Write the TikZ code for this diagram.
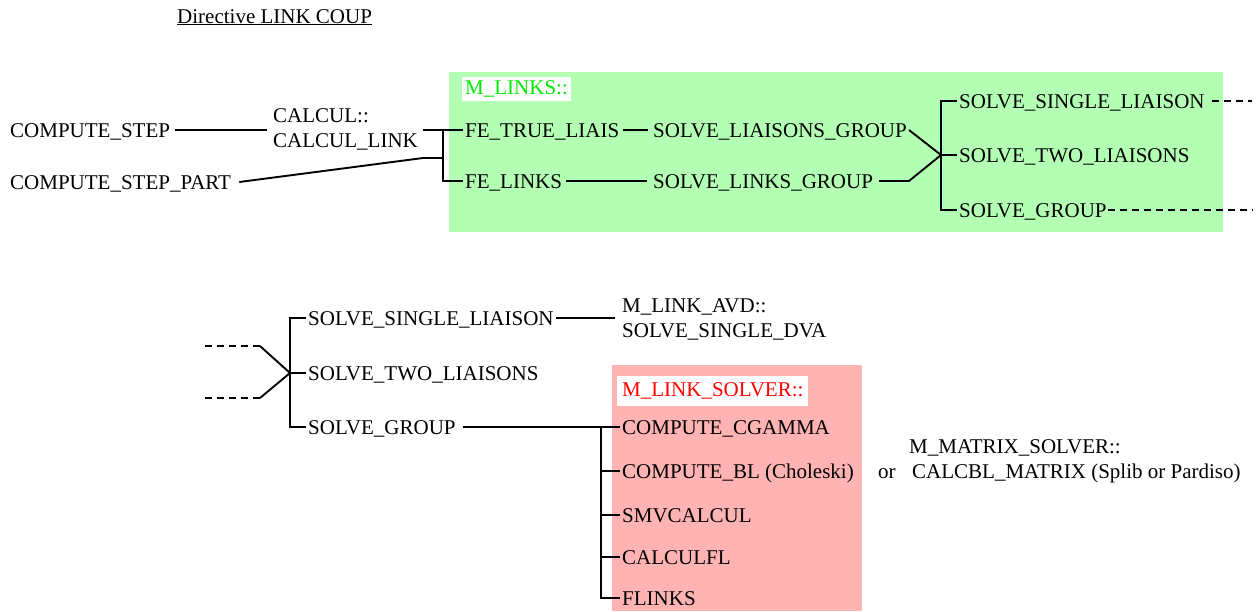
\documentclass[tikz,border=0pt]{standalone}
\usepackage{fontspec}
\setmainfont{Liberation Serif}
\definecolor{boxgreen}{RGB}{179,255,179}
\definecolor{boxpink}{RGB}{255,179,179}
\definecolor{txtgreen}{RGB}{0,232,0}
\definecolor{txtred}{RGB}{255,0,0}
\begin{document}
\begin{tikzpicture}[x=1pt,y=-1pt,
  every node/.style={font=\fontsize{21}{25}\selectfont},
  lbl/.style={anchor=west,inner sep=0pt,text height=14pt,text depth=0pt},
  multi/.style={anchor=west,inner sep=0pt,align=left},
  tag/.style={anchor=west,fill=white,inner xsep=3pt,inner ysep=3pt,text height=14pt,text depth=4pt},
  conn/.style={line width=1.9pt},
  dsh/.style={line width=1.9pt,dash pattern=on 7pt off 5pt}]
\useasboundingbox (0,0) rectangle (1258,611);
% background boxes
\fill[boxgreen] (449,72) rectangle (1223,232);
\fill[boxpink] (612,365) rectangle (862,611);
% title
\node[anchor=base west,inner sep=0pt] (title) at (177,23) {\underline{Directive LINK COUP}};
% upper part
\node[lbl] (cs) at (10,130) {COMPUTE\_STEP};
\node[lbl] (csp) at (10,182) {COMPUTE\_STEP\_PART};
\node[multi] (cal) at (273,129) {CALCUL::\\CALCUL\_LINK};
\node[tag,text=txtgreen] (mlinks) at (462,89) {M\_LINKS::};
\node[lbl] (fet) at (465,130) {FE\_TRUE\_LIAIS};
\node[lbl] (fel) at (465,181) {FE\_LINKS};
\node[lbl] (slg) at (653,130) {SOLVE\_LIAISONS\_GROUP};
\node[lbl] (slkg) at (653,181) {SOLVE\_LINKS\_GROUP};
\node[lbl] (ssl) at (959,101) {SOLVE\_SINGLE\_LIAISON};
\node[lbl] (stl) at (959,155) {SOLVE\_TWO\_LIAISONS};
\node[lbl] (sg) at (959,210) {SOLVE\_GROUP};
\coordinate (jA) at (443,158);
\coordinate (jB) at (941,155);
\coordinate (ex1) at (1252,101);
\coordinate (ex2) at (1252,210);
\draw[conn] ([xshift=5pt]cs.east) -- ([xshift=-6pt]cal.west |- cs.east);
\draw[conn] ([xshift=5pt]cal.east |- fet.west) -- ([xshift=-2pt]fet.west);
\draw[conn] (jA |- fet.west) -- (jA |- fel.west) -- ([xshift=-2pt]fel.west);
\draw[conn] ([xshift=8pt]csp.east) -- ([xshift=5pt]cal.east |- jA) -- (jA);
\draw[conn] ([xshift=4pt]fet.east) -- ([xshift=-5pt]slg.west);
\draw[conn] ([xshift=4pt]fel.east) -- ([xshift=-6pt]slkg.west);
\draw[conn] ([xshift=2pt]slg.east) -- (jB);
\draw[conn] ([xshift=6pt]slkg.east) -- ([xshift=2pt]slg.east |- slkg.east) -- (jB);
\draw[conn] ([xshift=-2pt]ssl.west) -| (jB |- sg.west) -- ([xshift=-2pt]sg.west);
\draw[conn] (jB) -- ([xshift=-2pt]stl.west);
\draw[dsh] ([xshift=7pt]ssl.east) -- (ex1);
\draw[dsh] ([xshift=1pt]sg.east) -- (ex2);
% lower part
\node[lbl] (ssl2) at (308,318) {SOLVE\_SINGLE\_LIAISON};
\node[lbl] (stl2) at (308,373) {SOLVE\_TWO\_LIAISONS};
\node[lbl] (sg2) at (308,427) {SOLVE\_GROUP};
\node[multi] (avd) at (622,319) {M\_LINK\_AVD::\\SOLVE\_SINGLE\_DVA};
\node[tag,text=txtred,inner xsep=5pt,inner ysep=6pt] (mls) at (617,391) {M\_LINK\_SOLVER::};
\node[lbl] (cg) at (622,427) {COMPUTE\_CGAMMA};
\node[lbl] (bl) at (622,471) {COMPUTE\_BL (Choleski)};
\node[lbl] (smv) at (622,515) {SMVCALCUL};
\node[lbl] (cfl) at (622,557) {CALCULFL};
\node[lbl] (fl) at (622,598) {FLINKS};
\node[lbl] (or) at (878,471) {or};
\node[lbl] (mms) at (909,446) {M\_MATRIX\_SOLVER::};
\node[lbl] (cbl) at (912,471) {CALCBL\_MATRIX (Splib or Pardiso)};
\coordinate (d1s) at (205,346);
\coordinate (d1e) at (260,346);
\coordinate (d2s) at (205,398);
\coordinate (d2e) at (260,398);
\coordinate (jC) at (290,373);
\coordinate (jD) at (601,427);
\draw[dsh] (d1s) -- (d1e);
\draw[dsh] (d2s) -- (d2e);
\draw[conn] (d1e) -- (jC) -- (d2e);
\draw[conn] ([xshift=-2pt]ssl2.west) -| (jC |- sg2.west) -- ([xshift=-2pt]sg2.west);
\draw[conn] (jC) -- ([xshift=-2pt]stl2.west);
\draw[conn] ([xshift=2pt]ssl2.east) -- ([xshift=-7pt]avd.west |- ssl2.east);
\draw[conn] ([xshift=7pt]sg2.east) -- ([xshift=-2pt]cg.west);
\draw[conn] (jD) |- ([xshift=-2pt]fl.west);
\draw[conn] (jD |- bl.west) -- ([xshift=-2pt]bl.west);
\draw[conn] (jD |- smv.west) -- ([xshift=-2pt]smv.west);
\draw[conn] (jD |- cfl.west) -- ([xshift=-2pt]cfl.west);
\end{tikzpicture}
\end{document}
